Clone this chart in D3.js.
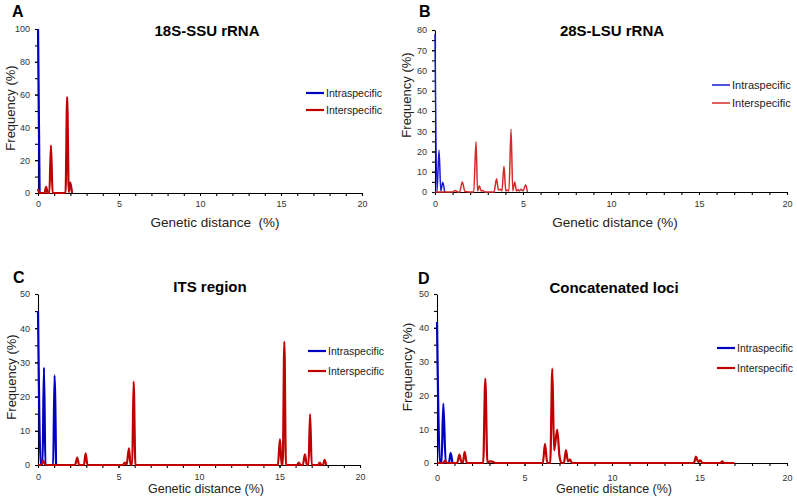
<!DOCTYPE html>
<html><head><meta charset="utf-8">
<script src="https://cdn.jsdelivr.net/npm/d3@7"></script>
<style>
html,body{margin:0;padding:0;background:#fff;}
svg{display:block;font-family:"Liberation Sans",Arial,sans-serif;}
</style></head>
<body>
<svg id="c" width="797" height="501"></svg>
<script>
// ---------- data (genetic distance %, frequency %) ----------
const seriesNames = ["Intraspecific", "Interspecific"];
const panelLetters = ["A", "B", "C", "D"];
const panelTitles = ["18S-SSU rRNA", "28S-LSU rRNA", "ITS region", "Concatenated loci"];
const xTickLabels = [0, 5, 10, 15, 20];
const yTicksA = [0, 20, 40, 60, 80, 100];
const yTicksB = [0, 10, 20, 30, 40, 50, 60, 70, 80];
const yTicksCD = [0, 10, 20, 30, 40, 50];

const intraA = [[0,100],[0.1,0]];
const interA = [[0,2.5],[0.1,0],[0.4,0],[0.5,3.7],[0.6,0],[0.7,0],[0.8,29],[0.9,0],[1.7,0],[1.8,58.5],[1.9,0.5],[2.0,6.3],[2.1,0]];

const intraB = [[0,78],[0.11,0],[0.23,20.6],[0.33,0.5],[0.44,4.8],[0.55,0]];
const interB = [[0,0],[1.0,0],[1.14,0.8],[1.3,0],[1.4,0],[1.55,5],[1.7,0.3],[2.2,0],[2.33,24.8],[2.42,0.5],[2.52,3.1],[2.62,0.5],[2.7,0.7],[2.85,0],[3.35,0],[3.5,6.6],[3.6,1],[3.7,1.3],[3.8,0.5],[3.92,12.7],[4.02,0.5],[4.1,1],[4.2,0.5],[4.32,31],[4.42,0.5],[4.53,5],[4.63,0.5],[4.73,1.2],[4.8,0.5],[4.9,1.3],[5.0,0.5],[5.15,3.6],[5.25,0]];

const intraC = [[0,45],[0.17,0],[0.28,0],[0.37,28.5],[0.46,0],[0.94,0],[1.03,26.2],[1.12,0]];
const interC = [[0,0],[0.2,0],[0.33,1.3],[0.45,0],[2.3,0],[2.44,2.2],[2.55,0],[2.85,0],[2.96,3.4],[3.07,0],[5.25,0],[5.4,0.7],[5.5,0],[5.65,4.9],[5.75,0],[5.85,0],[5.94,24.4],[6.05,0],[14.9,0],[15.03,7.6],[15.13,0],[15.2,0],[15.3,36],[15.4,0],[16.1,0],[16.2,0.7],[16.3,0],[16.45,0],[16.58,3.1],[16.7,0],[16.8,0],[16.9,14.9],[17.0,0],[17.4,0],[17.5,0.7],[17.6,0],[17.7,0],[17.8,1.5],[17.9,0]];

const intraD = [[0,41.7],[0.17,0],[0.26,0],[0.36,17.6],[0.5,0],[0.68,0],[0.78,3],[0.88,0]];
const interD = [[0,0],[0.35,0],[0.46,0.7],[0.57,0],[1.15,0],[1.28,2.5],[1.4,0.2],[1.48,0.2],[1.58,3.3],[1.7,0],[2.64,0],[2.76,25],[2.88,0],[2.98,0.4],[3.1,0.5],[3.22,0.3],[3.32,0],[6.05,0],[6.17,5.7],[6.3,0],[6.47,0],[6.59,27.9],[6.69,3.7],[6.87,9.9],[7.0,2],[7.12,0],[7.25,0],[7.37,3.8],[7.48,0.5],[7.6,1],[7.72,0],[14.68,0],[14.8,1.9],[14.92,0.3],[15.05,0.8],[15.17,0],[16.2,0],[16.3,0.5],[16.4,0],[17.0,0]];

// ---------- layout ----------
const panels = [
  {letter:panelLetters[0], title:panelTitles[0], intra:intraA, inter:interA, yMax:100, yTicks:yTicksA, yMinorStep:10,
   x0:38, x1:362, y0:193, y1:29, lw:2.2, blue:"#0000c0", red:"#c00000",
   letterXY:[12,17], titleXY:[207,36], yLab:[15,108,13], xLab:[215,227,13.5,"Genetic distance  (%)"],
   legX:306, legY:[93,110], legFont:10.5, xTickPad:5},
  {letter:panelLetters[1], title:panelTitles[1], intra:intraB, inter:interB, yMax:80, yTicks:yTicksB, yMinorStep:5,
   x0:435, x1:787, y0:192, y1:30, lw:1.5, blue:"#1a1ad0", red:"#d42a2a",
   letterXY:[419,17], titleXY:[612,36], yLab:[411,95,13], xLab:[615,227,13.5,"Genetic distance (%)"],
   legX:712, legY:[85,103], legFont:11, xTickPad:6},
  {letter:panelLetters[2], title:panelTitles[2], intra:intraC, inter:interC, yMax:50, yTicks:yTicksCD, yMinorStep:5,
   x0:38, x1:360, y0:465, y1:294, lw:2.2, blue:"#0000c0", red:"#c00000",
   letterXY:[13,283], titleXY:[210,292], yLab:[16,377,13], xLab:[206,493,12.5,"Genetic distance (%)"],
   legX:308, legY:[351,371], legFont:10.5, xTickPad:6},
  {letter:panelLetters[3], title:panelTitles[3], intra:intraD, inter:interD, yMax:50, yTicks:yTicksCD, yMinorStep:5,
   x0:437, x1:787, y0:463, y1:294, lw:2.2, blue:"#0000c0", red:"#c00000",
   letterXY:[418,284], titleXY:[614,293], yLab:[412,367,13.5], xLab:[614,493,12.5,"Genetic distance (%)"],
   legX:717, legY:[348,368], legFont:10.5, xTickPad:9},
];

const svg = d3.select("#c");

panels.forEach(p => {
  const g = svg.append("g");
  const x = d3.scaleLinear().domain([0, 20]).range([p.x0, p.x1]);
  const y = d3.scaleLinear().domain([0, p.yMax]).range([p.y0, p.y1]);

  // axes: minor ticks
  const xMinor = d3.range(0, 21, 1);
  const yMinor = d3.range(0, p.yMax + 0.001, p.yMinorStep);
  g.append("g").attr("transform", `translate(0,${p.y0})`)
    .call(d3.axisBottom(x).tickValues(xMinor).tickSize(3).tickSizeOuter(0).tickFormat(""))
    .call(a => a.selectAll("path,line").attr("stroke", "#000").attr("stroke-width", 1.1));
  g.append("g").attr("transform", `translate(${p.x0},0)`)
    .call(d3.axisLeft(y).tickValues(yMinor).tickSize(3).tickSizeOuter(0).tickFormat(""))
    .call(a => a.selectAll("path,line").attr("stroke", "#000").attr("stroke-width", 1.1));
  // labelled ticks
  g.append("g").attr("transform", `translate(0,${p.y0})`)
    .call(d3.axisBottom(x).tickValues(xTickLabels).tickSize(3).tickPadding(p.xTickPad).tickSizeOuter(0))
    .call(a => { a.select(".domain").remove(); a.selectAll("line").attr("stroke","#000");
      a.selectAll("text").attr("font-size", 9).attr("fill", "#333").attr("font-family", "Liberation Sans, Arial, sans-serif"); });
  g.append("g").attr("transform", `translate(${p.x0},0)`)
    .call(d3.axisLeft(y).tickValues(p.yTicks).tickSize(3).tickPadding(5).tickSizeOuter(0))
    .call(a => { a.select(".domain").remove(); a.selectAll("line").attr("stroke","#000");
      a.selectAll("text").attr("font-size", 9).attr("fill", "#333").attr("font-family", "Liberation Sans, Arial, sans-serif"); });

  // lines
  const line = d3.line().x(d => x(d[0])).y(d => y(d[1])).curve(d3.curveMonotoneX);
  g.append("path").datum(p.intra).attr("d", line).attr("fill", "none")
    .attr("stroke", p.blue).attr("stroke-width", p.lw).attr("stroke-linejoin", "round");
  g.append("path").datum(p.inter).attr("d", line).attr("fill", "none")
    .attr("stroke", p.red).attr("stroke-width", p.lw).attr("stroke-linejoin", "round");

  // panel letter & title
  g.append("text").attr("x", p.letterXY[0]).attr("y", p.letterXY[1]).text(p.letter)
    .attr("font-size", 16).attr("font-weight", "bold").attr("fill", "#000");
  g.append("text").attr("x", p.titleXY[0]).attr("y", p.titleXY[1]).text(p.title)
    .attr("text-anchor", "middle").attr("font-size", 15).attr("font-weight", "bold").attr("fill", "#000");

  // axis labels
  g.append("text").attr("transform", `translate(${p.yLab[0]},${p.yLab[1]}) rotate(-90)`)
    .attr("text-anchor", "middle").attr("font-size", p.yLab[2]).attr("fill", "#222").text("Frequency (%)");
  g.append("text").attr("x", p.xLab[0]).attr("y", p.xLab[1]).attr("text-anchor", "middle")
    .attr("font-size", p.xLab[2]).attr("fill", "#222").style("white-space", "pre").text(p.xLab[3]);

  // legend
  const cols = [p.blue, p.red];
  seriesNames.forEach((name, i) => {
    g.append("line").attr("x1", p.legX).attr("x2", p.legX + 18)
      .attr("y1", p.legY[i]).attr("y2", p.legY[i]).attr("stroke", cols[i]).attr("stroke-width", p.lw);
    g.append("text").attr("x", p.legX + 20).attr("y", p.legY[i]).attr("dy", "0.35em")
      .attr("font-size", p.legFont).attr("fill", "#222").text(name);
  });
});
</script>
</body></html>
